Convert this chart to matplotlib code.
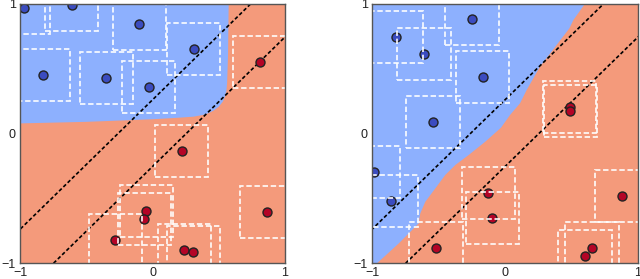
import numpy as np
import matplotlib
matplotlib.use("Agg")
import matplotlib.pyplot as plt
from matplotlib.patches import Rectangle, Polygon

plt.rcParams['font.family'] = ['Liberation Sans', 'DejaVu Sans']

# ---- data ----
# left panel
left_blue_x = [-0.97, -0.61, -0.10, 0.313, -0.826, -0.349, -0.029]
left_blue_y = [0.967, 0.99, 0.843, 0.655, 0.454, 0.429, 0.359]
left_red_x = [0.809, 0.220, -0.049, -0.064, -0.283, 0.240, 0.306, 0.862]
left_red_y = [0.55, -0.133, -0.596, -0.660, -0.820, -0.897, -0.915, -0.609]
left_boundary_x = [-1.0, -0.5, 0.0, 0.2, 0.31, 0.38, 0.42, 0.46, 0.5, 0.53, 0.547, 0.558, 0.563, 0.57, 0.575]
left_boundary_y = [0.078, 0.09, 0.11, 0.122, 0.13, 0.143, 0.156, 0.176, 0.207, 0.245, 0.284, 0.33, 0.39, 0.6, 1.0]

# right panel
right_blue_x = [-0.248, -0.820, -0.609, -0.168, -0.541, -0.987, -0.855]
right_blue_y = [0.887, 0.743, 0.611, 0.439, 0.089, -0.295, -0.524]
right_red_x = [0.485, 0.49, -0.125, -0.095, -0.519, 0.880, 0.654, 0.602]
right_red_y = [0.205, 0.175, -0.457, -0.655, -0.887, -0.483, -0.887, -0.944]
right_boundary_x = [-0.96, -0.8, -0.649, -0.637, -0.599, -0.524, -0.449, -0.373, -0.273,
                    -0.148, -0.03, 0.038, 0.113, 0.163, 0.263, 0.338, 0.484, 0.514, 0.60]
right_boundary_y = [-1.0, -0.85, -0.694, -0.617, -0.527, -0.424, -0.320, -0.243, -0.166,
                    -0.063, 0.045, 0.143, 0.233, 0.336, 0.516, 0.616, 0.812, 0.876, 1.0]

# margin lines y = x + b
line_slopes = [1.0, 1.0]
line_intercepts = [0.26, -0.255]

box_half = 0.2
ticks = [-1, 0, 1]
tick_labels = ['\u22121', '0', '1']

blue_bg = '#8db0fe'
red_bg = '#f49a7b'
blue_pt = '#3b4cc0'
red_pt = '#b40426'

fig = plt.figure(figsize=(6.4, 2.79), dpi=100)
ax1 = fig.add_axes([20/640, 16/279, 265/640, 259/279])
ax2 = fig.add_axes([372/640, 16/279, 266/640, 259/279])


def draw(ax, bx, by, rx, ry, bndx, bndy, corners):
    ax.set_facecolor(red_bg)
    poly = list(zip(bndx, bndy)) + corners
    ax.add_patch(Polygon(poly, closed=True, facecolor=blue_bg, edgecolor='none', zorder=1))
    xs = np.array([-1.2, 1.2])
    for m, b in zip(line_slopes, line_intercepts):
        ax.plot(xs, m * xs + b, color='black', lw=1.2, ls=(0, (2.2, 1.4)), zorder=3)
    ax.scatter(bx, by, s=42, color=blue_pt, edgecolor='#222222', linewidth=1.0, zorder=4)
    ax.scatter(rx, ry, s=42, color=red_pt, edgecolor='#222222', linewidth=1.0, zorder=4)
    for x, y in list(zip(bx, by)) + list(zip(rx, ry)):
        ax.add_patch(Rectangle((x - box_half, y - box_half), 2 * box_half, 2 * box_half,
                               fill=False, edgecolor='white', lw=1.3,
                               ls=(0, (3, 1.5)), alpha=0.9, zorder=5))
    ax.set_xlim(-1, 1)
    ax.set_ylim(-1, 1)
    ax.set_xticks(ticks)
    ax.set_yticks(ticks)
    ax.set_xticklabels(tick_labels)
    ax.set_yticklabels(tick_labels)
    ax.tick_params(length=0, labelsize=9, pad=3, colors='#222222')
    for s in ax.spines.values():
        s.set_color('#555555')
        s.set_linewidth(1.0)
        s.set_zorder(6)


draw(ax1, left_blue_x, left_blue_y, left_red_x, left_red_y,
     left_boundary_x, left_boundary_y, [(-1.0, 1.0)])
draw(ax2, right_blue_x, right_blue_y, right_red_x, right_red_y,
     right_boundary_x, right_boundary_y, [(-1.0, 1.0), (-1.0, -1.0)])

fig.savefig('out.png', dpi=100)
